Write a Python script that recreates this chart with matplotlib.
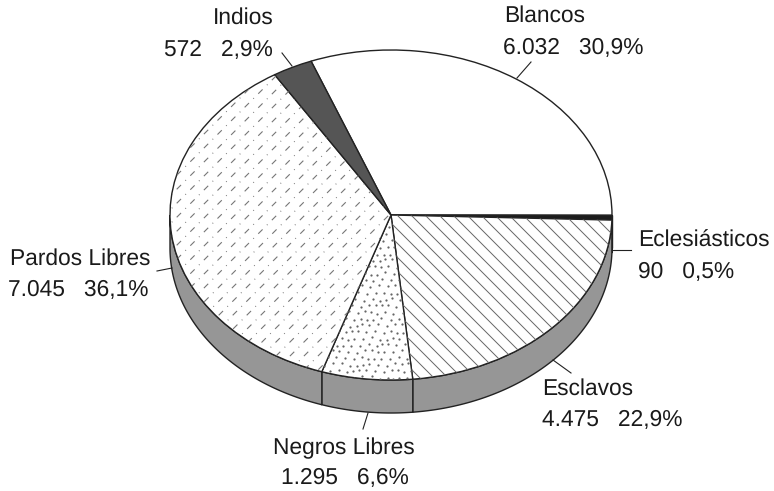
import numpy as np
import matplotlib
matplotlib.use("Agg")
import matplotlib.pyplot as plt
from matplotlib.patches import Polygon
from matplotlib.transforms import Affine2D

W, H = 774, 491

names = ["Blancos", "Eclesiásticos", "Esclavos", "Negros Libres", "Pardos Libres", "Indios"]
counts = [6032, 90, 4475, 1295, 7045, 572]
count_labels = ["6.032", "90", "4.475", "1.295", "7.045", "572"]
pct_labels = ["30,9%", "0,5%", "22,9%", "6,6%", "36,1%", "2,9%"]

CX, CY = 391, 215
RX, RY = 221, 165
DEPTH = 33 / RY
START = 111.2
INK = "#222222"

plt.rcParams['font.family'] = ['Liberation Sans', 'DejaVu Sans']
plt.rcParams['text.hinting'] = 'none'

fig = plt.figure(figsize=(W / 100, H / 100), dpi=100)
ax = fig.add_axes([0, 0, 1, 1])
pix = Affine2D().scale(1, -1).translate(0, H)

def arc(a1, a2, dy=0.0):
	t = np.radians(np.linspace(a1, a2, 200))
	return np.column_stack([np.cos(t), np.sin(t) - dy])

wedges, _ = ax.pie(counts, startangle=START, counterclock=False, radius=1, frame=True,
	colors=["white"] * 6, wedgeprops=dict(edgecolor=INK, linewidth=1.0, zorder=3))

# pie forces equal aspect, stretch the unit circle into the tilted ellipse
ax.set_aspect("auto")
ax.set_xlim(-CX / RX, (W - CX) / RX)
ax.set_ylim((CY - H) / RY, CY / RY)
ax.axis("off")

# side wall, only the front half shows
angles = START - np.cumsum([0] + counts) / sum(counts) * 360
for a1, a2 in zip(angles[:-1], angles[1:]):
	lo, hi = max(a2, -180), min(a1, 0)
	if lo >= hi:
		continue
	pts = np.vstack([arc(hi, lo), arc(lo, hi, DEPTH)])
	ax.add_patch(Polygon(pts, closed=True, facecolor="#969696", edgecolor=INK, linewidth=1.0, zorder=2))

wedges[1].set_facecolor("#1c1c1c")
wedges[5].set_facecolor("#555555")

def clipped_lines(wedge, offsets, sign, **kw):
	# diagonal lines across the whole figure, cut to one slice
	for c in offsets:
		xs = np.array([0, W])
		ys = c + sign * xs
		ln, = ax.plot(xs, ys, transform=pix, zorder=3.5, **kw)
		ln.set_clip_path(wedge)

# Esclavos: thin solid back-diagonals
clipped_lines(wedges[2], np.arange(-700, 500, 14), 1, color="#666666", linewidth=0.7)

# Pardos Libres: dash-dot forward diagonals
clipped_lines(wedges[4], np.arange(100, 1000, 14), -1, color="#777777", linewidth=0.8,
	dashes=(5.5, 5.5, 0.8, 5.5))

# Negros Libres: stipple on a staggered grid, nudged so rows do not read as columns
gx, gy = np.meshgrid(np.arange(300, 430, 7.5), np.arange(215, 385, 6.5))
gx[1::2] += 3.7
gx = gx + 1.8 * np.sin(gy * 1.3 + gx * 0.7)
gy = gy + 1.5 * np.cos(gx * 1.9)
dots = ax.scatter(gx.ravel(), gy.ravel(), s=2.6, color="#666666", linewidths=0, transform=pix, zorder=3.5)
dots.set_clip_path(wedges[3])

# leader lines, pixel positions
leaders = [((517, 78), (531, 62)), ((612, 250), (631, 250)), ((553, 360), (571, 373)),
	((368, 413), (363, 429)), ((157, 271), (172, 268)), ((282, 53), (292, 66))]
for p, q in leaders:
	ax.plot([p[0], q[0]], [p[1], q[1]], color=INK, linewidth=0.8, transform=pix, zorder=4)

# label blocks: name line anchor, value line anchor
name_pos = [(504, 16), (638, 241), (542, 389), (273, 448), (10, 259), (213, 18)]
val_pos = [(503, 48), (638, 272), (542, 420), (281, 478), (8, 290), (164, 50)]

for i in range(len(names)):
	ax.text(name_pos[i][0], name_pos[i][1], names[i], transform=pix, fontsize=16.4, color="#1a1a1a", va="center", ha="left")
	ax.text(val_pos[i][0], val_pos[i][1], count_labels[i] + "   " + pct_labels[i], transform=pix, fontsize=16.4,
		color="#1a1a1a", va="center", ha="left")

fig.savefig("out.png", dpi=100)
